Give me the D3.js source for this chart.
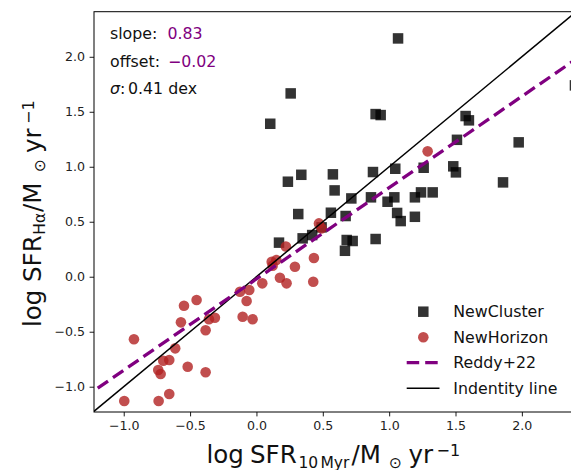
<!DOCTYPE html>
<html><head><meta charset="utf-8">
<script src="https://cdn.jsdelivr.net/npm/d3@7"></script>
<style>
html,body{margin:0;padding:0;background:#fff;overflow:hidden}
text{font-family:"DejaVu Sans",sans-serif}
</style></head>
<body><svg id="c" width="571" height="470"></svg>
<script>
// ---- data ----
const clusterX = [1.067,0.258,0.104,0.898,0.936,1.576,1.601,1.511,1.976,1.483,1.503,1.858,1.26,1.046,0.878,0.576,0.338,0.237,0.589,0.715,0.863,0.988,1.039,1.194,1.24,1.328,1.06,1.087,1.194,0.315,0.561,0.672,0.491,0.42,0.348,0.17,0.68,0.725,0.667,0.898,2.40];
const clusterY = [2.167,1.667,1.391,1.479,1.47,1.461,1.422,1.245,1.222,1.004,0.949,0.858,0.991,0.982,0.952,0.931,0.927,0.864,0.785,0.712,0.722,0.682,0.722,0.722,0.767,0.767,0.58,0.506,0.545,0.57,0.582,0.552,0.449,0.379,0.349,0.31,0.334,0.325,0.236,0.343,1.74];
const horizonX = [-0.996,-0.737,-0.657,-0.923,-0.546,-0.451,-0.569,-0.358,-0.313,-0.383,-0.612,-0.702,-0.657,-0.74,-0.722,-0.518,-0.383,-0.124,-0.054,-0.074,-0.104,-0.029,0.044,0.115,0.15,0.122,0.222,0.177,0.227,0.29,0.433,0.428,0.471,0.491,1.29];
const horizonY = [-1.13,-1.13,-1.066,-0.569,-0.264,-0.212,-0.415,-0.387,-0.373,-0.487,-0.651,-0.764,-0.757,-0.848,-0.885,-0.818,-0.869,-0.136,-0.121,-0.221,-0.364,-0.387,-0.06,0.136,0.152,0.10,0.275,-0.009,-0.06,0.091,0.17,-0.045,0.485,0.44,1.14];
const reddySlope = 0.83, reddyOffset = -0.02;
const xTicks = [-1.0,-0.5,0.0,0.5,1.0,1.5,2.0];
const yTicks = [-1.0,-0.5,0.0,0.5,1.0,1.5,2.0];
const legendLabels = ["NewCluster","NewHorizon","Reddy+22","Indentity line"];

// ---- layout ----
const L=94, T=11.7, B=412, R=580;
const xDom=[-1.224,2.438], yDom=[-1.23,2.41];
const x=d3.scaleLinear().domain(xDom).range([L,R]);
const y=d3.scaleLinear().domain(yDom).range([B,T]);
const svg=d3.select("#c");
const purple="#800080", red="#b22222";
const fmt=v=>(v<0?"\u2212":"")+Math.abs(v).toFixed(1);

svg.append("defs").append("clipPath").attr("id","clip")
  .append("rect").attr("x",L).attr("y",T).attr("width",R-L).attr("height",B-T);
const g=svg.append("g").attr("clip-path","url(#clip)");

// points
const sq=10.5;
g.selectAll("rect.c").data(clusterX.map((v,i)=>[v,clusterY[i]])).enter().append("rect")
  .attr("x",d=>x(d[0])-sq/2).attr("y",d=>y(d[1])-sq/2).attr("width",sq).attr("height",sq)
  .attr("fill","#000").attr("fill-opacity",0.8);
g.selectAll("circle.h").data(horizonX.map((v,i)=>[v,horizonY[i]])).enter().append("circle")
  .attr("cx",d=>x(d[0])).attr("cy",d=>y(d[1])).attr("r",5.3)
  .attr("fill",red).attr("fill-opacity",0.8);

// lines
const xs=[-2,3];
const line=d3.line().x(d=>x(d[0])).y(d=>y(d[1]));
g.append("path").attr("d",line(xs.map(v=>[v,v]))).attr("stroke","#000").attr("stroke-width",1.5).attr("fill","none");
g.append("path").attr("d",line(xs.map(v=>[v,reddySlope*v+reddyOffset]))).attr("stroke",purple)
  .attr("stroke-width",3.3).attr("stroke-dasharray","12.5,6").attr("fill","none");

// axes
const xa=svg.append("g").attr("transform",`translate(0,${B})`)
  .call(d3.axisBottom(x).tickValues(xTicks).tickFormat(fmt).tickSize(4.4).tickPadding(4.5));
const ya=svg.append("g").attr("transform",`translate(${L},0)`)
  .call(d3.axisLeft(y).tickValues(yTicks).tickFormat(fmt).tickSize(4.4).tickPadding(4.5));
[xa,ya].forEach(a=>{a.select(".domain").remove();
  a.selectAll("text").attr("font-size","12.6px").attr("fill","#222").attr("font-family","DejaVu Sans");
  a.selectAll("line").attr("stroke","#000").attr("stroke-width",0.9);});
svg.append("rect").attr("x",L).attr("y",T).attr("width",R-L).attr("height",B-T)
  .attr("fill","none").attr("stroke","#000").attr("stroke-width",1);

// annotations
const fs=15.8;
const a1=svg.append("text").attr("x",110).attr("y",38.5).attr("font-size",fs+"px").attr("fill","#111");
a1.append("tspan").text("slope:  ");
a1.append("tspan").attr("x",167.5).attr("fill",purple).text(reddySlope.toFixed(2));
const a2=svg.append("text").attr("x",110).attr("y",66.5).attr("font-size",fs+"px").attr("fill","#111");
a2.append("tspan").text("offset: ");
a2.append("tspan").attr("x",168).attr("fill",purple).text("\u2212"+Math.abs(reddyOffset).toFixed(2));
const a3=svg.append("text").attr("x",110).attr("y",94).attr("font-size",fs+"px").attr("fill","#111");
a3.append("tspan").attr("font-style","italic").text("\u03c3");
a3.append("tspan").text(":");
a3.append("tspan").attr("x",128).text("0.41 dex");

// legend
const lx=423.3, ltx=453.3, ly=[311.7,337.3,362.7,388.3];
const lg=svg.append("g");
lg.append("rect").attr("x",lx-sq/2).attr("y",ly[0]-sq/2).attr("width",sq).attr("height",sq).attr("fill","#000").attr("fill-opacity",0.8);
lg.append("circle").attr("cx",lx).attr("cy",ly[1]).attr("r",5.3).attr("fill",red).attr("fill-opacity",0.8);
lg.append("line").attr("x1",406.7).attr("x2",439.5).attr("y1",ly[2]).attr("y2",ly[2]).attr("stroke",purple).attr("stroke-width",3.3).attr("stroke-dasharray","12.5,6");
lg.append("line").attr("x1",406.7).attr("x2",439.5).attr("y1",ly[3]).attr("y2",ly[3]).attr("stroke","#000").attr("stroke-width",1.5);
legendLabels.forEach((t,i)=>lg.append("text").attr("x",ltx).attr("y",ly[i]+5.6).attr("font-size",fs+"px").attr("fill","#111").text(t));

// axis labels (mathtext-like layout)
const lf=24.5, sf=15.5, pf=16, subD=4.7, supD=-7;
function mathLabel(parent, parts){
  const t=parent.append("text").attr("x",0).attr("y",0).attr("fill","#111");
  parts.forEach(p=>{
    t.append("tspan").attr("x",p[1]).attr("y",p[2]).attr("font-size",(p[3]||lf)+"px").text(p[0]);
  });
  return t;
}
const xlg=svg.append("g").attr("transform","translate(206.5,463.3)");
mathLabel(xlg,[["log",0,0],["SFR",43.5,0],["10",92,subD,sf],["Myr",114,subD,sf],["/M",145,0],["\u2299",182.5,subD,sf],["yr",202,0],["\u22121",230,supD,pf]]);
const ylg=svg.append("g").attr("transform","translate(40.7,327) rotate(-90)");
mathLabel(ylg,[["log",0,0],["SFR",45,0],["H\u03b1",92.3,subD,sf],["/M",115,0],["\u2299",155,subD,sf],["yr",174,0],["\u22121",203,supD,pf]]);
</script></body></html>
